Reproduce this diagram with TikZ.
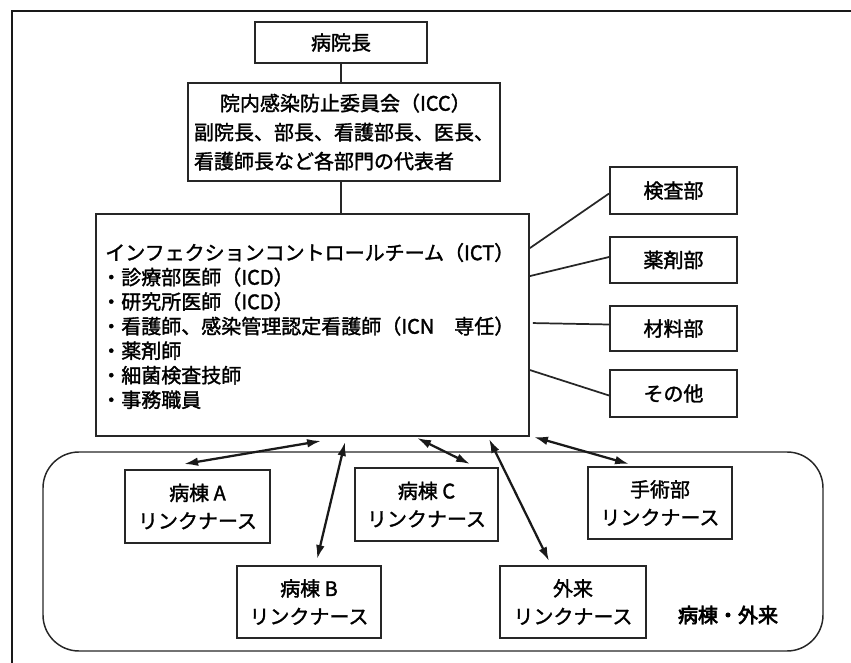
\documentclass[tikz,border=0pt]{standalone}
\usepackage{fontspec}
\setmainfont{Noto Sans CJK JP}[FakeBold=1.6]
\newfontfamily\boldjp{Noto Sans CJK JP}[FakeBold=3.5]
\usetikzlibrary{calc,arrows.meta}
\begin{document}
\begin{tikzpicture}[x=0.75pt,y=-0.75pt,
  lc/.style={draw=black!85, line width=1.4pt},
  sz/.style 2 args={minimum width=#1*0.75pt, minimum height=#2*0.75pt},
  box/.style={lc, inner sep=0pt, align=center, font=\fontsize{15pt}{21pt}\selectfont},
  arr/.style={draw=black!90, line width=1.7pt, {Latex[length=10.5pt,width=6.5pt]}-{Latex[length=10.5pt,width=6.5pt]}},
  conn/.style={draw=black!85, line width=1.3pt}]
\useasboundingbox (0,0) rectangle (851,663);
\draw[line width=1.8pt, black!90] (12,663) -- (12,11) -- (851,11);

% top chain
\node[box, sz={172}{41}] (inchou) at (341,42.5) {病院長};
\node[box, sz={312}{98}, align=left, font=\fontsize{15pt}{21.75pt}\selectfont] (icc) at (344,132)
  {\hspace*{1.3em}院内感染防止委員会（ICC）\\副院長、部長、看護部長、医長、\\看護師長など各部門の代表者};
\node[lc, sz={433}{222}, inner sep=0pt] (ict) at (312.5,325) {};
\node[anchor=west, align=left, inner sep=0pt, font=\fontsize{15pt}{18.4pt}\selectfont] (ictt) at (101,326)
  {\hspace*{0.2em}インフェクションコントロールチーム（ICT）\\
   ・診療部医師（ICD）\\
   ・研究所医師（ICD）\\
   ・看護師、感染管理認定看護師（ICN　専任）\\
   ・薬剤師\\
   ・細菌検査技師\\
   ・事務職員};

\draw[conn] (inchou.south) -- (inchou.south |- icc.north);
\draw[conn] (icc.south -| inchou.south) -- (ict.north -| inchou.south);

% right departments
\node[box, sz={127}{47}] (kensa) at (673.5,190.5) {検査部};
\node[box, sz={127}{46}] (yaku) at (673.5,260) {薬剤部};
\node[box, sz={127}{45}] (zai) at (673.5,328.5) {材料部};
\node[box, sz={127}{47}] (sono) at (673.5,393.5) {その他};

\draw[conn] ($(ict.north east)+(0,35)$) -- ($(kensa.west)+(0,3)$);
\draw[conn] ($(ict.north east)+(0,63)$) -- ($(yaku.west)+(0,-3)$);
\draw[conn] ($(ict.north east)+(3,110)$) -- ($(zai.west)+(0,-4)$);
\draw[conn] ($(ict.north east)+(0,157)$) -- ($(sono.west)+(0,2)$);

% wards area
\node[lc, line width=1.1pt, rounded corners=27pt, sz={780}{199}, inner sep=0pt] (area) at (433,551.5) {};
\node[inner sep=0pt, font=\boldjp\fontsize{15pt}{18pt}\selectfont] (lbl) at (728,615) {病棟・外来};

\node[box, sz={145}{73}] (wa) at (197.5,506.5) {病棟 A\\リンクナース};
\node[box, sz={144}{72}] (wb) at (309,602) {病棟 B\\リンクナース};
\node[box, sz={143}{73}] (wc) at (426.5,504.5) {病棟 C\\リンクナース};
\node[box, sz={146}{72}] (gai) at (573,602) {外来\\リンクナース};
\node[box, sz={144}{72}] (shu) at (660,503) {手術部\\リンクナース};

\draw[arr] ($(ict.south west)+(226,4)$) -- ($(wa.north west)+(60,-5)$);
\draw[arr] ($(ict.south west)+(250,5)$) -- ($(wb.north west)+(81,-6)$);
\draw[arr] ($(ict.south west)+(322,1)$) -- ($(wc.north west)+(116,-3)$);
\draw[arr] ($(ict.south west)+(394,2)$) -- ($(gai.north west)+(50,-4)$);
\draw[arr] ($(ict.south east)+(4,0)$) -- ($(shu.north west)+(42,-2)$);
\end{tikzpicture}
\end{document}
